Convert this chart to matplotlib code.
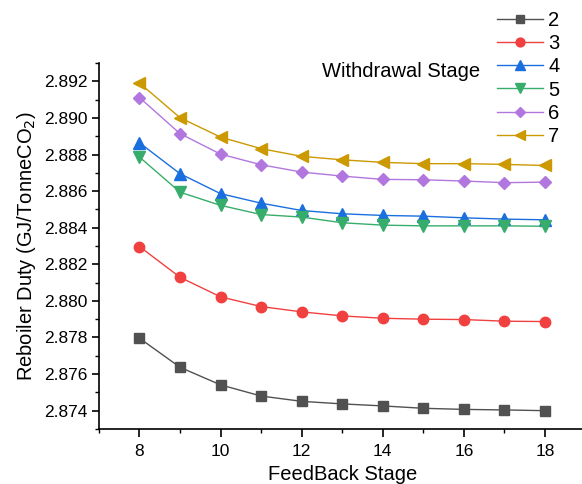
import matplotlib
matplotlib.use("Agg")
import matplotlib.pyplot as plt
from matplotlib.ticker import MultipleLocator, FormatStrFormatter

plt.rcParams["font.family"] = ["Liberation Sans", "DejaVu Sans"]

# feedback stages (x axis)
stages = [8, 9, 10, 11, 12, 13, 14, 15, 16, 17, 18]

# reboiler duty for each withdrawal stage
duty_2 = [2.87796, 2.87637, 2.87541, 2.87480, 2.87451, 2.87437, 2.87426, 2.87413, 2.87407, 2.87404, 2.87400]
duty_3 = [2.88297, 2.88129, 2.88022, 2.87969, 2.87940, 2.87918, 2.87905, 2.87900, 2.87898, 2.87889, 2.87887]
duty_4 = [2.88864, 2.88695, 2.88586, 2.88534, 2.88494, 2.88476, 2.88467, 2.88463, 2.88454, 2.88447, 2.88443]
duty_5 = [2.88786, 2.88594, 2.88522, 2.88472, 2.88458, 2.88427, 2.88414, 2.88410, 2.88410, 2.88410, 2.88408]
duty_6 = [2.89111, 2.88914, 2.88802, 2.88744, 2.88704, 2.88682, 2.88664, 2.88662, 2.88655, 2.88646, 2.88649]
duty_7 = [2.89191, 2.89001, 2.88895, 2.88832, 2.88790, 2.88771, 2.88757, 2.88750, 2.88750, 2.88746, 2.88740]

series_labels = ["2", "3", "4", "5", "6", "7"]

# (color, marker, size) per series
STYLES = [
    ("#515151", "s", 6.5),
    ("#F14040", "o", 7.5),
    ("#1A6FDF", "^", 8),
    ("#37AD6B", "v", 8),
    ("#B177DE", "D", 6.5),
    ("#CC9900", "<", 8),
]


def main():
    fig = plt.figure(figsize=(5.82, 4.84), dpi=100)
    ax = fig.add_axes([0.170, 0.1137, 0.836, 0.7561])

    all_duty = [duty_2, duty_3, duty_4, duty_5, duty_6, duty_7]
    for vals, lab, (col, mk, ms) in zip(all_duty, series_labels, STYLES):
        ax.plot(stages, vals, color=col, marker=mk, markersize=ms,
                linewidth=1.0, label=lab)

    ax.set_xlim(7, 19)
    ax.set_ylim(2.873, 2.893)
    ax.xaxis.set_major_locator(MultipleLocator(2))
    ax.xaxis.set_minor_locator(MultipleLocator(1))
    ax.yaxis.set_major_locator(MultipleLocator(0.002))
    ax.yaxis.set_minor_locator(MultipleLocator(0.001))
    ax.yaxis.set_major_formatter(FormatStrFormatter("%.3f"))
    ax.tick_params(which="major", direction="out", length=5, width=1.2,
                   labelsize=12.5)
    ax.tick_params(axis="x", which="major", length=6, pad=5)
    ax.tick_params(which="minor", direction="out", length=3, width=1.0)
    for side in ("top", "right"):
        ax.spines[side].set_visible(False)
    for side in ("left", "bottom"):
        ax.spines[side].set_linewidth(1.2)

    ax.set_xlabel("FeedBack Stage", fontsize=14.5, labelpad=4.5)
    ax.set_ylabel("Reboiler Duty (GJ/TonneCO$_2$)", fontsize=14.5)

    fig.legend(loc="upper left", bbox_to_anchor=(0.840, 0.993), frameon=False,
               fontsize=14.5, handlelength=2.3, labelspacing=0.2,
               handletextpad=0.25, borderaxespad=0.0, markerscale=0.85)
    fig.text(0.553, 0.853, "Withdrawal Stage", fontsize=14.5, va="center")

    fig.savefig("out.png", dpi=100)


if __name__ == "__main__":
    main()
